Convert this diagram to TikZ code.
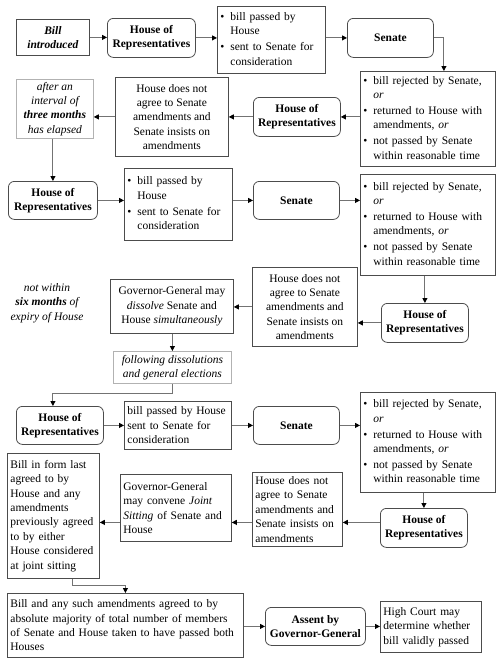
\documentclass[tikz,border=0pt]{standalone}
\usepackage{fontspec}
\setmainfont{Liberation Serif}
\usetikzlibrary{arrows.meta}
\newcommand{\blist}[1]{\begin{tabular}[t]{@{}l@{\hspace{6pt}}l@{}}#1\end{tabular}}

\begin{document}
\begin{tikzpicture}[
  x=1pt,
  y=-1pt,
  every node/.style={font=\fontsize{11.5}{14.4}\selectfont, inner xsep=3pt, inner ysep=2pt, anchor=north west},
  box/.style={draw=black!70, line width=0.8pt},
  leftbox/.style={box, align=left},
  midbox/.style={box, align=center},
  chamber/.style={box, rounded corners=6pt, align=center, font=\fontsize{11.5}{14.4}\selectfont\bfseries},
  notebox/.style={draw=black!30, line width=0.8pt, align=center, font=\fontsize{11.5}{14.4}\selectfont\itshape},
  link/.style={draw=black!55, line width=0.9pt, -{Triangle[length=5pt, width=5pt, color=black]}}
]
  \useasboundingbox (0,0) rectangle (500,665);

  \node[midbox, minimum width=73pt, minimum height=36pt, font=\fontsize{11.5}{14.4}\selectfont\bfseries\itshape] (intro) at (16,19) {Bill\\introduced};
  \node[chamber, minimum width=88pt, minimum height=39pt] (hor1) at (107,18) {House of\\Representatives};
  \node[leftbox, minimum height=67pt, text width=102pt] (pass1) at (217,6)
    {\blist{\textbullet & bill passed by\\ & House\\[1.5pt] \textbullet & sent to Senate for\\ & consideration}};
  \node[chamber, minimum width=86pt, minimum height=39pt] (sen1) at (347,18) {Senate};
  \node[leftbox, minimum height=95pt, text width=129pt] (rej1) at (360,71)
    {\blist{\textbullet & bill rejected by Senate,\\ & \emph{or}\\[1.5pt] \textbullet & returned to House with\\ & amendments, \emph{or}\\[1.5pt] \textbullet & not passed by Senate\\ & within reasonable time}};
  \node[chamber, minimum width=87pt, minimum height=39pt] (hor2) at (253,97) {House of\\Representatives};
  \node[midbox, minimum width=113pt, minimum height=79pt] (dis1) at (115,77) {House does not\\agree to Senate\\amendments and\\Senate insists on\\amendments};
  \node[notebox, minimum width=77pt, minimum height=59pt] (wait) at (16,79) {after an\\interval of\\\textbf{three months}\\has elapsed};

  \node[chamber, minimum width=89pt, minimum height=38pt] (hor3) at (8,181) {House of\\Representatives};
  \node[leftbox, minimum height=72pt, text width=102pt] (pass2) at (124,168)
    {\blist{\textbullet & bill passed by\\ & House\\[1.5pt] \textbullet & sent to Senate for\\ & consideration}};
  \node[chamber, minimum width=86pt, minimum height=38pt] (sen2) at (253,181) {Senate};
  \node[leftbox, minimum height=101pt, text width=129pt] (rej2) at (360,174)
    {\blist{\textbullet & bill rejected by Senate,\\ & \emph{or}\\[1.5pt] \textbullet & returned to House with\\ & amendments, \emph{or}\\[1.5pt] \textbullet & not passed by Senate\\ & within reasonable time}};
  \node[chamber, minimum width=87pt, minimum height=39pt] (hor4) at (381,303) {House of\\Representatives};
  \node[midbox, minimum width=105pt, minimum height=79pt] (dis2) at (252,267) {House does not\\agree to Senate\\amendments and\\Senate insists on\\amendments};
  \node[midbox, minimum width=123pt, minimum height=54pt] (gg1) at (110,279) {Governor-General may\\\emph{dissolve} Senate and\\House \emph{simultaneously}};
  \node[align=center, font=\fontsize{11.5}{14.4}\selectfont\itshape, anchor=center] (limit) at (47,303) {not within\\\textbf{six months} of\\expiry of House};
  \node[notebox, minimum width=118pt, minimum height=32pt] (elect) at (113,351) {following dissolutions\\and general elections};

  \node[chamber, minimum width=87pt, minimum height=38pt] (hor5) at (16,406) {House of\\Representatives};
  \node[leftbox, minimum height=48pt, text width=101pt] (pass3) at (124,401) {bill passed by House\\sent to Senate for\\consideration};
  \node[chamber, minimum width=86pt, minimum height=38pt] (sen3) at (253,406) {Senate};
  \node[leftbox, minimum height=100pt, text width=129pt] (rej3) at (360,392)
    {\blist{\textbullet & bill rejected by Senate,\\ & \emph{or}\\[1.5pt] \textbullet & returned to House with\\ & amendments, \emph{or}\\[1.5pt] \textbullet & not passed by Senate\\ & within reasonable time}};
  \node[chamber, minimum width=87pt, minimum height=39pt] (hor6) at (380,508) {House of\\Representatives};
  \node[leftbox, minimum height=74pt, text width=84pt] (dis3) at (252,472) {House does not\\agree to Senate\\amendments and\\Senate insists on\\amendments};
  \node[leftbox, minimum height=67pt, text width=105pt] (gg2) at (120,474) {Governor-General\\may convene \emph{Joint}\\\emph{Sitting} of Senate and\\House};
  \node[leftbox, minimum height=125pt, text width=86pt] (joint) at (7,453) {Bill in form last\\agreed to by\\House and any\\amendments\\previously agreed\\to by either\\House considered\\at joint sitting};
  \node[leftbox, minimum height=64pt, text width=230pt] (maj) at (7,593) {Bill and any such amendments agreed to by\\absolute majority of total number of members\\of Senate and House taken to have passed both\\Houses};
  \node[chamber, minimum width=100pt, minimum height=38pt] (assent) at (265,607) {Assent by\\Governor-General};
  \node[leftbox, minimum height=51pt, text width=95pt] (court) at (380,601) {High Court may\\determine whether\\bill validly passed};

  \coordinate (row6) at ([yshift=5.5pt]hor6.west);

  \draw[link] (intro.east) -- (intro.east -| hor1.west);
  \draw[link] (hor1.east) -- (hor1.east -| pass1.west);
  \draw[link] (sen1.west -| pass1.east) -- (sen1.west);
  \draw[link] (sen1.east) -| ([xshift=16pt]rej1.north);
  \draw[link] (rej1.west |- hor2.east) -- (hor2.east);
  \draw[link] (hor2.west) -- (hor2.west -| dis1.east);
  \draw[link] (dis1.west |- hor2.west) -- (hor2.west -| wait.east);
  \draw[link] (hor3.north |- wait.south) -- (hor3.north);

  \draw[link] (hor3.east) -- (hor3.east -| pass2.west);
  \draw[link] (sen2.west -| pass2.east) -- (sen2.west);
  \draw[link] (sen2.east) -- (sen2.east -| rej2.west);
  \draw[link] (rej2.south -| hor4.north) -- (hor4.north);
  \draw[link] (hor4.west) -- (hor4.west -| dis2.east);
  \draw[link] (dis2.west) -- (dis2.west -| gg1.east);
  \draw[link] (gg1.south -| elect.north) -- (elect.north);
  \draw[link] (elect.south) -- ++(0,10) -| ([xshift=-7pt]hor5.north);

  \draw[link] (hor5.east) -- (hor5.east -| pass3.west);
  \draw[link] (sen3.west -| pass3.east) -- (sen3.west);
  \draw[link] (sen3.east) -- (sen3.east -| rej3.west);
  \draw[link] (rej3.south -| hor6.north) -- (hor6.north);
  \draw[link] (row6) -- (row6 -| dis3.east);
  \draw[link] (dis3.west |- row6) -- (row6 -| gg2.east);
  \draw[link] (gg2.west |- row6) -- (row6 -| joint.east);
  \draw[link] ([xshift=19pt]joint.south) -- ++(0,7) -| (maj.north);
  \draw[link] (maj.east |- assent.west) -- (assent.west);
  \draw[link] (assent.east) -- (assent.east -| court.west);
\end{tikzpicture}
\end{document}
